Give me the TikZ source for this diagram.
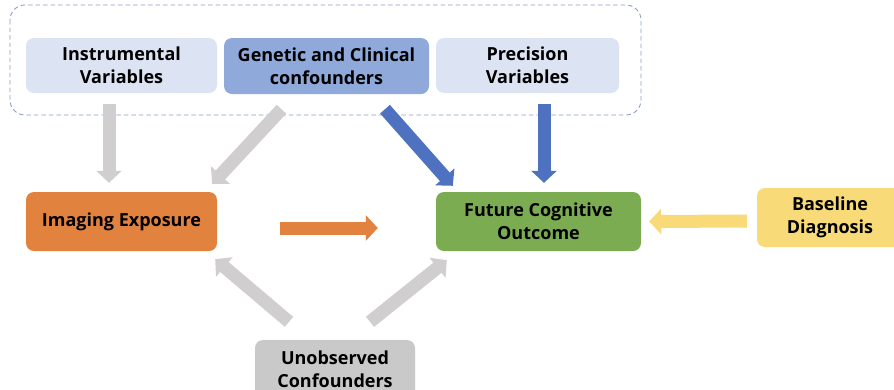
\documentclass[tikz,border=0pt]{standalone}
\usepackage{fontspec}
\setmainfont{Open Sans}
\usetikzlibrary{arrows.meta}

\definecolor{paleblue}{HTML}{DCE3F3}
\definecolor{midblue}{HTML}{8FA9DB}
\definecolor{frameblue}{HTML}{8A9CC8}
\definecolor{arrowblue}{HTML}{4E71C0}
\definecolor{arrowgray}{HTML}{D0CECE}
\definecolor{boxgray}{HTML}{C9C9C9}
\definecolor{orangebox}{HTML}{E2823F}
\definecolor{greenbox}{HTML}{7CAC52}
\definecolor{yellowbox}{HTML}{F8DA78}

\tikzset{
  box/.style={rounded corners=8pt, align=center, inner sep=0pt,
    font=\fontsize{18}{23}\selectfont\bfseries, text=black},
  fatarrow/.style={line width=13pt, -{Triangle[length=12pt,width=25pt]}},
}

\begin{document}
\begin{tikzpicture}[x=1pt,y=-1pt]
  \useasboundingbox (0,0) rectangle (894,389);
  \clip (0,0) rectangle (894,389);

  % grouping frame around the covariates
  \draw[frameblue, line width=0.9pt, dash pattern=on 4.5pt off 3pt, rounded corners=15pt]
    (10,5) rectangle (641,115);

  % boxes
  \node[box, fill=paleblue, minimum width=191pt, minimum height=55pt] (iv) at (121.5,65.5)
    {Instrumental\\Variables};
  \node[box, fill=midblue, minimum width=205pt, minimum height=56pt] (gc) at (326.5,66)
    {Genetic and Clinical\\confounders};
  \node[box, fill=paleblue, minimum width=183pt, minimum height=55pt] (pv) at (527.5,65.5)
    {Precision\\Variables};
  \node[box, fill=orangebox, minimum width=191pt, minimum height=59pt] (img) at (121.5,221.5)
    {Imaging Exposure};
  \node[box, fill=greenbox, minimum width=205pt, minimum height=59pt] (fco) at (538.5,221.5)
    {Future Cognitive\\Outcome};
  \node[box, fill=yellowbox, minimum width=146pt, minimum height=59pt] (bd) at (830,217.5)
    {Baseline\\Diagnosis};
  \node[box, fill=boxgray, minimum width=160pt, minimum height=58pt] (uc) at (335,369)
    {Unobserved\\Confounders};

  % arrows
  \draw[fatarrow, arrowgray]
    ([xshift=-12.5pt,yshift=-11pt]iv.south) -- ([xshift=-12.5pt,yshift=9pt]img.north);
  \draw[fatarrow, arrowgray]
    ([xshift=-45pt,yshift=-15pt]gc.south) -- ([xshift=-5pt,yshift=8pt]img.north east);
  \draw[fatarrow, arrowblue]
    ([xshift=58.5pt,yshift=-15pt]gc.south) -- ([xshift=17pt,yshift=6pt]fco.north west);
  \draw[fatarrow, arrowblue]
    ([xshift=16.5pt,yshift=-11pt]pv.south) -- ([xshift=5.5pt,yshift=9pt]fco.north);
  \draw[fatarrow, orangebox]
    ([xshift=63pt,yshift=-6.5pt]img.east) -- ([xshift=-58pt,yshift=-6.5pt]fco.west);
  \draw[fatarrow, yellowbox]
    ([xshift=-10pt,yshift=-3.5pt]bd.west) -- ([xshift=8pt]fco.east);
  \draw[fatarrow, arrowgray]
    ([xshift=-46pt,yshift=18pt]uc.north) -- ([xshift=-2pt,yshift=-8pt]img.south east);
  \draw[fatarrow, arrowgray]
    ([xshift=35pt,yshift=18pt]uc.north) -- ([xshift=11pt,yshift=-9pt]fco.south west);
\end{tikzpicture}
\end{document}
